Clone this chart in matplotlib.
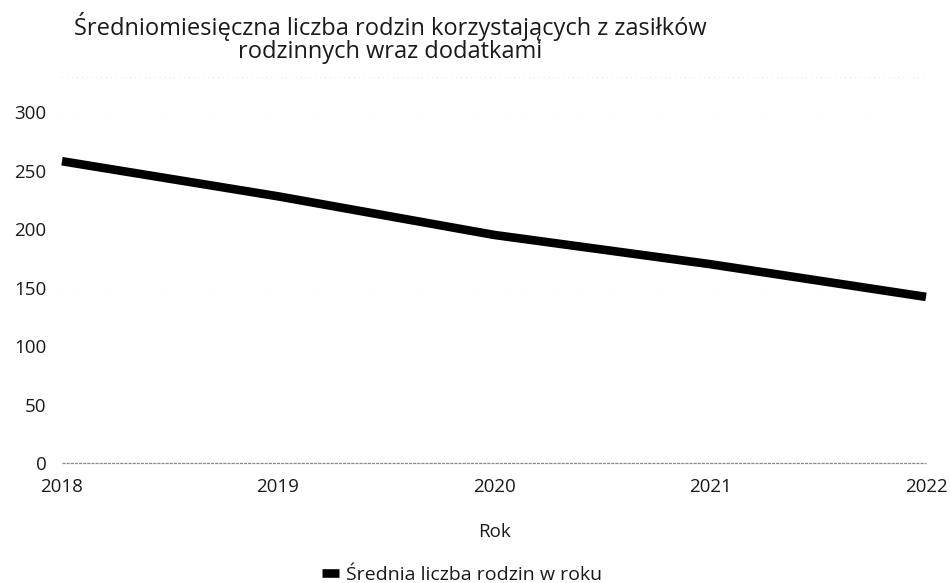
import matplotlib.pyplot as plt

plt.rcParams["font.family"] = ["Open Sans", "DejaVu Sans"]

# średnia liczba rodzin w kolejnych latach
years = [2018, 2019, 2020, 2021, 2022]
families = [258, 228, 195, 170, 142]
y_ticks = [0, 50, 100, 150, 200, 250, 300]

title_lines = [
    "Średniomiesięczna liczba rodzin korzystających z zasiłków",
    "rodzinnych wraz dodatkami",
]

fig = plt.figure(figsize=(9.5, 5.83), dpi=100)
ax = fig.add_axes([62 / 950, 120 / 583, 864 / 950, 386 / 583])

ax.plot(years, families, color="black", linewidth=6.2, solid_capstyle="butt",
        label="Średnia liczba rodzin w roku", clip_on=False, zorder=3)

ax.set_xlim(2018, 2022)
ax.set_ylim(0, 330)
ax.set_xticks(years)
ax.set_yticks(y_ticks)

# siatka prawie niewidoczna, kropkowana
for v in y_ticks[1:]:
    ax.axhline(v, color="#e4e4e4", linewidth=0.5, linestyle=(0, (1, 14)), zorder=1)
ax.axhline(0, color="#8a8a8a", linewidth=0.9, linestyle=(0, (2.5, 0.8)), zorder=2,
           clip_on=False)
ax.axhline(330, color="#cfcfcf", linewidth=0.5, linestyle=(0, (1, 6)), zorder=1)

for side in ["top", "right", "left", "bottom"]:
    ax.spines[side].set_visible(False)

ax.tick_params(axis="y", length=0, pad=11, labelsize=13.5, colors="#1a1a1a")
ax.tick_params(axis="x", length=0, pad=11, labelsize=13.5, colors="#1a1a1a")
ax.set_xlabel("Rok", fontsize=13.5, color="#1a1a1a", labelpad=19)

fig.text(390 / 950, 1 - 35 / 583, title_lines[0], ha="center", va="baseline",
         fontsize=17, color="#1a1a1a")
fig.text(390 / 950, 1 - 58 / 583, title_lines[1], ha="center", va="baseline",
         fontsize=17, color="#1a1a1a")

fig.legend(loc="center", bbox_to_anchor=(462 / 950, 1 - 575 / 583), frameon=False,
           fontsize=14, handlelength=0.85, handletextpad=0.35,
           labelcolor="#1a1a1a")

fig.savefig("out.png", dpi=100)
